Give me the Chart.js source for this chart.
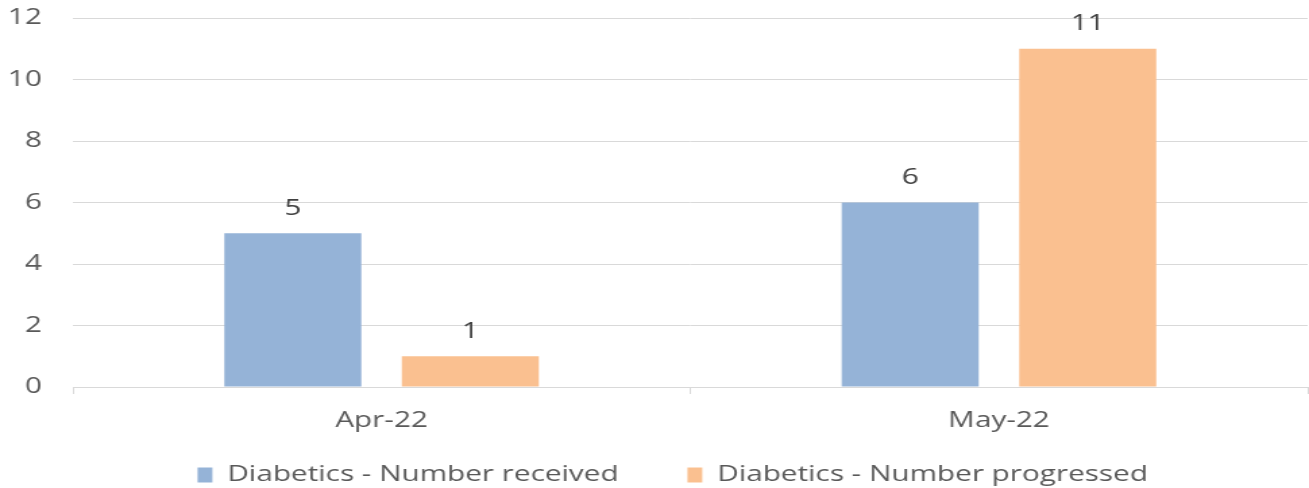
<!DOCTYPE html>
<html><head><meta charset="utf-8">
<script src="https://cdn.jsdelivr.net/npm/chart.js@4/dist/chart.umd.min.js"></script>
<style>html,body{margin:0;padding:0;background:#fff}#c{display:block;width:1309px;height:488px}</style>
</head><body><canvas id="c" width="970" height="488" style="width:1309px;height:488px"></canvas>
<script>
const categories = ["Apr-22", "May-22"];
const receivedValues = [5, 6];
const progressedValues = [1, 11];
const seriesNames = ["Diabetics - Number received", "Diabetics - Number progressed"];
const yTicks = [0, 2, 4, 6, 8, 10, 12];

const FONT = "'Open Sans', sans-serif";
const labelPlugin = {
  id: 'vals',
  afterLayout(chart) {
    const l = chart.legend;
    const dy = 413 - l.top, dx = 14;
    l.top += dy; l.bottom += dy; l.left += dx; l.right += dx;
  },
  afterDatasetsDraw(chart) {
    const ctx = chart.ctx;
    ctx.save();
    ctx.font = "22px " + FONT;
    ctx.fillStyle = '#404040';
    ctx.textAlign = 'center';
    ctx.textBaseline = 'middle';
    chart.data.datasets.forEach((ds, i) => {
      chart.getDatasetMeta(i).data.forEach((bar, j) => {
        ctx.fillText(String(ds.data[j]), bar.x, bar.y - 25);
      });
    });
    ctx.restore();
  }
};

new Chart(document.getElementById('c'), {
  type: 'bar',
  data: {
    labels: categories,
    datasets: [
      { label: seriesNames[0], data: receivedValues, backgroundColor: '#95b3d7' },
      { label: seriesNames[1], data: progressedValues, backgroundColor: '#fac090' }
    ]
  },
  options: {
    responsive: false,
    animation: false,
    devicePixelRatio: 1,
    categoryPercentage: 0.575,
    barPercentage: 0.772,
    layout: { padding: { left: 0, right: 1, top: 18, bottom: -32 } },
    plugins: {
      legend: {
        position: 'bottom',
        labels: { font: { family: FONT, size: 22 }, color: '#595959', boxWidth: 11, boxHeight: 15, padding: 51 }
      },
      tooltip: { enabled: false }
    },
    scales: {
      x: {
        grid: { offset: true, drawOnChartArea: false, drawTicks: true, tickLength: 7, color: '#d9d9d9' },
        border: { display: true, color: '#d9d9d9' },
        ticks: { font: { family: FONT, size: 22 }, color: '#595959', padding: 14 },
        afterFit(s) { s.height = 50; }
      },
      y: {
        min: 0, max: 12,
        afterBuildTicks(s) { s.ticks = yTicks.map(v => ({ value: v })); },
        grid: { color: '#d9d9d9', drawTicks: true, tickLength: 23, tickColor: 'rgba(0,0,0,0)' },
        border: { display: false },
        ticks: { font: { family: FONT, size: 22 }, color: '#595959', padding: 0 },
        afterFit(s) { s.width = 54; }
      }
    }
  },
  plugins: [labelPlugin]
});
</script></body></html>
